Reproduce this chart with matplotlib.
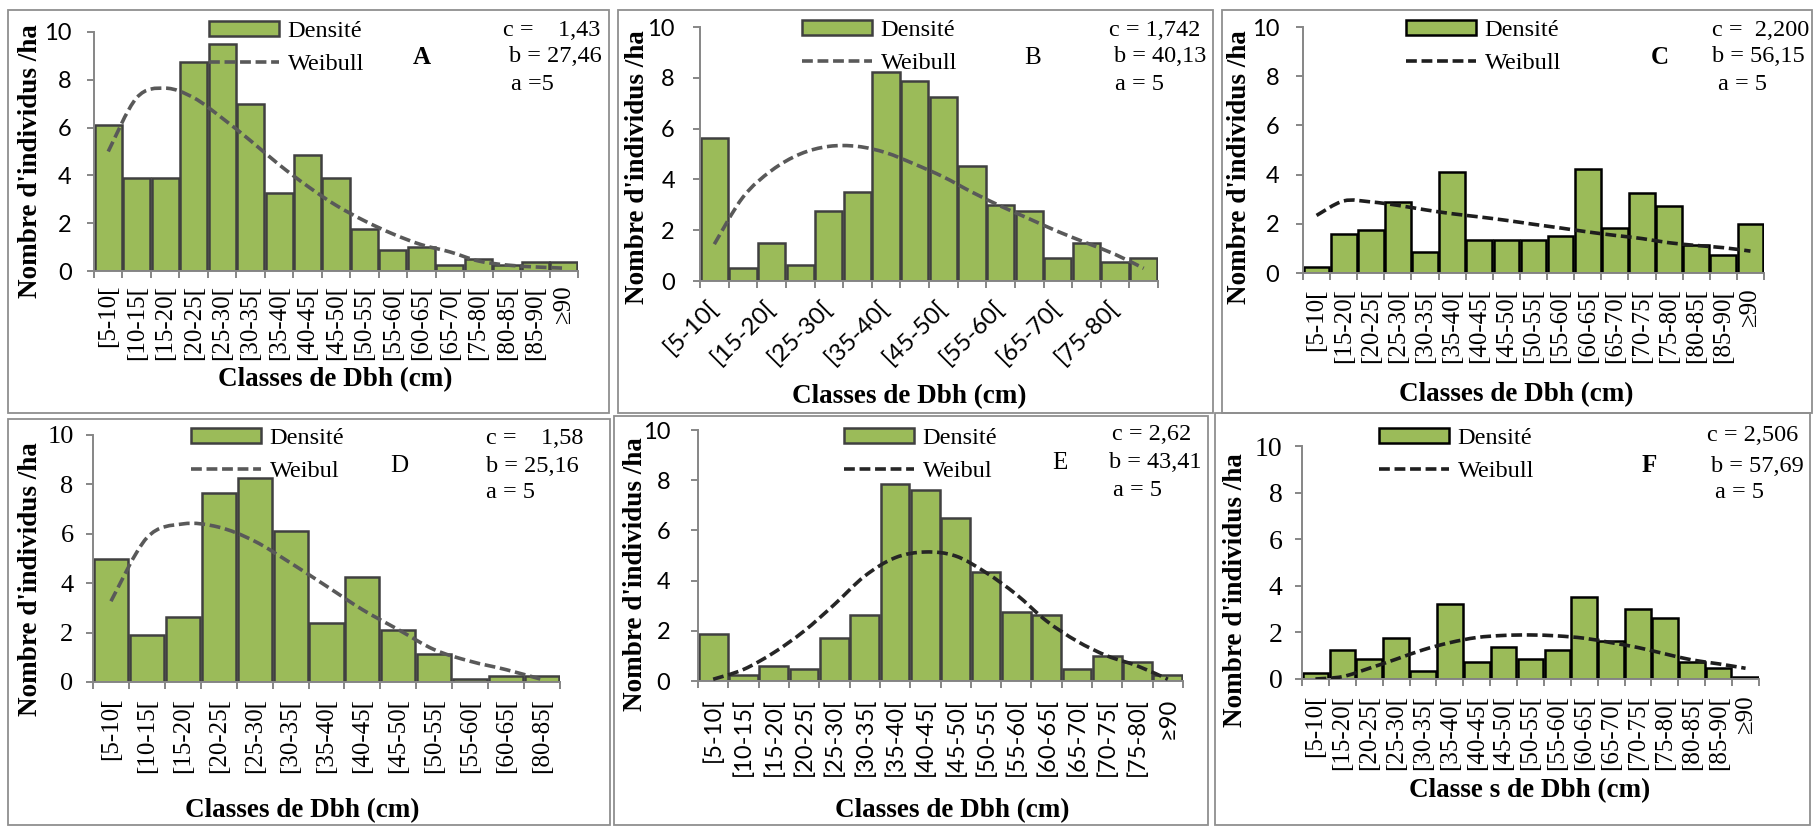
import matplotlib
matplotlib.use("Agg")
import matplotlib.pyplot as plt
from matplotlib.patches import Rectangle, Patch, PathPatch
from matplotlib.lines import Line2D
from matplotlib.path import Path
import numpy as np

W, H = 1814, 826
SERIF = "Liberation Serif"
SANS = ["Lato", "DejaVu Sans"]
VERT = "#9BBB59"
plt.rcParams["font.family"] = [SERIF, "DejaVu Sans"]

# ---------------- donnees ----------------
classes_A = ["[5-10[", "[10-15[", "[15-20[", "[20-25[", "[25-30[", "[30-35[", "[35-40[",
             "[40-45[", "[45-50[", "[50-55[", "[55-60[", "[60-65[", "[65-70[", "[75-80[",
             "[80-85[", "[85-90[", "≥90"]
densite_A = [6.1, 3.9, 3.9, 8.75, 9.5, 7.0, 3.25, 4.85, 3.9, 1.75, 0.87, 1.0, 0.25, 0.5, 0.25, 0.37, 0.37]
weibull_A = [5.0, 7.25, 7.65, 7.25, 6.4, 5.45, 4.45, 3.55, 2.75, 2.1, 1.55, 1.1, 0.8, 0.42, 0.25, 0.17, 0.12]

classes_B = ["[5-10[", "[10-15[", "[15-20[", "[20-25[", "[25-30[", "[30-35[", "[35-40[", "[40-45[",
             "[45-50[", "[50-55[", "[55-60[", "[60-65[", "[65-70[", "[70-75[", "[75-80[", "[80-85["]
densite_B = [5.64, 0.5, 1.51, 0.63, 2.77, 3.5, 8.24, 7.89, 7.25, 4.51, 3.0, 2.77, 0.89, 1.51, 0.76, 0.89]
weibull_B = [1.45, 3.3, 4.35, 5.0, 5.3, 5.3, 5.05, 4.6, 4.1, 3.5, 2.95, 2.45, 1.95, 1.5, 1.05, 0.5]

classes_C = ["[5-10[", "[15-20[", "[20-25[", "[25-30[", "[30-35[", "[35-40[", "[40-45[", "[45-50[",
             "[50-55[", "[55-60[", "[60-65[", "[65-70[", "[70-75[", "[75-80[", "[80-85[", "[85-90[", "≥90"]
densite_C = [0.24, 1.6, 1.73, 2.89, 0.85, 4.1, 1.35, 1.35, 1.35, 1.49, 4.24, 1.84, 3.25, 2.74, 1.12, 0.72, 1.99]
weibull_C = [2.34, 2.93, 2.89, 2.75, 2.57, 2.41, 2.28, 2.14, 1.98, 1.83, 1.67, 1.53, 1.4, 1.23, 1.12, 1.03, 0.89]

classes_D = ["[5-10[", "[10-15[", "[15-20[", "[20-25[", "[25-30[", "[30-35[", "[35-40[",
             "[40-45[", "[45-50[", "[50-55[", "[55-60[", "[60-65[", "[80-85["]
densite_D = [5.0, 1.89, 2.64, 7.64, 8.24, 6.12, 2.38, 4.26, 2.12, 1.14, 0.14, 0.26, 0.26]
weibull_D = [3.27, 5.84, 6.4, 6.27, 5.7, 4.82, 3.88, 2.93, 2.12, 1.31, 0.84, 0.5, 0.1]

classes_E = ["[5-10[", "[10-15[", "[15-20[", "[20-25[", "[25-30[", "[30-35[", "[35-40[", "[40-45[",
             "[45-50[", "[50-55[", "[55-60[", "[60-65[", "[65-70[", "[70-75[", "[75-80[", "≥90"]
densite_E = [1.86, 0.23, 0.6, 0.49, 1.73, 2.62, 7.86, 7.61, 6.48, 4.36, 2.75, 2.62, 0.49, 1.0, 0.76, 0.23]
weibull_E = [0.07, 0.46, 1.13, 1.99, 3.05, 4.18, 4.91, 5.14, 4.98, 4.32, 3.45, 2.39, 1.59, 1.0, 0.6, 0.07]

classes_F = classes_C
densite_F = [0.24, 1.25, 0.86, 1.74, 0.36, 3.24, 0.75, 1.36, 0.86, 1.25, 3.5, 1.61, 3.0, 2.61, 0.75, 0.46, 0.1]
weibull_F = [0.0, 0.1, 0.46, 0.85, 1.25, 1.56, 1.78, 1.87, 1.89, 1.85, 1.75, 1.56, 1.35, 1.08, 0.82, 0.65, 0.46]

fig = plt.figure(figsize=(W / 100, H / 100), dpi=100)


def cadre(l, t, r, b):
    fig.add_artist(Rectangle((l / W, 1 - b / H), (r - l) / W, (b - t) / H, transform=fig.transFigure,
                             fill=False, ec="#8f8f8f", lw=1.3))


def texte(x, y, s, **kw):
    fig.text(x / W, 1 - y / H, s, va="center", **kw)


def courbe_lissee(x, y):
    # courbe "lissee" facon tableur : Bezier passant par chaque point
    pts = np.column_stack([x, y]).astype(float)
    verts = [pts[0]]
    codes = [Path.MOVETO]
    for i in range(len(pts) - 1):
        p0 = pts[i - 1] if i > 0 else pts[i]
        p1, p2 = pts[i], pts[i + 1]
        p3 = pts[i + 2] if i + 2 < len(pts) else pts[i + 1]
        verts += [p1 + (p2 - p0) / 6, p2 - (p3 - p1) / 6, p2]
        codes += [Path.CURVE4] * 3
    return Path(verts, codes)


def panneau(box, classes, densite, weibull, params, lettre, leg, ylab, xlab,
            xlab_text="Classes de Dbh (cm)", weib_label="Weibull", edge="#404040", ligne="#595959",
            xfont=SERIF, xsize=18, xpad=10, yfont=SANS, ysize=17, ypad=11, every=1, rot=90):
    l, t, r, b = box
    ax = fig.add_axes([l / W, 1 - b / H, (r - l) / W, (b - t) / H])
    ax.patch.set_alpha(0)
    n = len(classes)
    x = np.arange(n)
    ax.bar(x, densite, width=0.95, color=VERT, edgecolor=edge, linewidth=1.8, zorder=2)
    ax.add_patch(PathPatch(courbe_lissee(x, weibull), fill=False, edgecolor=ligne, lw=2.6,
                           linestyle=(0, (3, 1.3)), zorder=3))
    ax.set_xlim(-0.5, n - 0.5)
    ax.set_ylim(0, 10)
    ax.set_yticks(range(0, 11, 2))
    for s in ("top", "right"):
        ax.spines[s].set_visible(False)
    for s in ("left", "bottom"):
        ax.spines[s].set_color("#868686")
        ax.spines[s].set_linewidth(1.4)
    # graduations aux limites des classes, etiquettes au centre
    ax.set_xticks(np.arange(n + 1) - 0.5)
    ax.set_xticklabels([])
    ax.set_xticks(x[::every], [classes[i] for i in x[::every]], minor=True)
    ax.tick_params(axis="x", which="major", direction="out", length=5, width=1.4, color="#868686")
    ax.tick_params(axis="x", which="minor", length=0, pad=xpad)
    ax.tick_params(axis="y", direction="out", length=5, width=1.4, color="#868686", pad=ypad)
    for lab in ax.get_xticklabels(minor=True):
        lab.set_fontfamily(xfont)
        lab.set_fontsize(xsize)
        if rot == 90:
            lab.set_rotation(90)
        else:
            lab.set_rotation(rot)
            lab.set_ha("right")
            lab.set_va("center")
            lab.set_rotation_mode("anchor")
    for lab in ax.get_yticklabels():
        lab.set_fontfamily(yfont)
        lab.set_fontsize(ysize)

    ax.set_ylabel("Nombre d'individus /ha", fontfamily=SERIF, fontweight="bold", fontsize=19.5,
                  va="center", ha="center")
    ax.yaxis.set_label_coords(ylab[0] / W, 1 - ylab[1] / H, transform=fig.transFigure)
    ax.set_xlabel(xlab_text, fontfamily=SERIF, fontweight="bold", fontsize=19.5, va="center", ha="center")
    ax.xaxis.set_label_coords(xlab[0] / W, 1 - xlab[1] / H, transform=fig.transFigure)

    handles = [Patch(facecolor=VERT, edgecolor=edge, linewidth=1.8),
               Line2D([], [], color=ligne, lw=2.6, dashes=(3, 1.3))]
    ax.legend(handles, ["Densité", weib_label], loc="upper left",
              bbox_to_anchor=(leg[0] / W, 1 - leg[1] / H), bbox_transform=fig.transFigure,
              frameon=False, borderpad=0, borderaxespad=0, handlelength=2.9, handleheight=0.55,
              handletextpad=0.34, labelspacing=0.5, prop={"family": SERIF, "size": 17.5})

    for px, py, s in params:
        texte(px, py, s, fontfamily=SERIF, fontsize=17.5)
    lt, lx, ly, bold = lettre
    texte(lx, ly, lt, ha="center", fontfamily=SERIF, fontsize=18,
          fontweight="bold" if bold else "normal")
    return ax


# cadres des six panneaux
cadre(8, 10, 609, 413)
cadre(618, 10, 1213, 413)
cadre(1222, 10, 1812, 413)
cadre(8, 419, 610, 825)
cadre(614, 416, 1208, 825)
cadre(1215, 413, 1810, 825)

panneau((94, 32, 578, 271), classes_A, densite_A, weibull_A,
        [(503, 30, "c =    1,43"), (509, 57, "b = 27,46"), (511, 85, "a =5")],
        ("A", 422, 58, True), (209, 21), (31, 161), (335, 380),
        xpad=10, ypad=11)

panneau((700, 27, 1158, 281), classes_B, densite_B, weibull_B,
        [(1109, 30, "c = 1,742"), (1114, 57, "b = 40,13"), (1115, 85, "a = 5")],
        ("B", 1033, 58, False), (802, 20), (638, 167), (909, 397),
        xfont=SANS, xsize=17.5, xpad=17, rot=45, every=2, ypad=13)

panneau((1303, 27, 1764, 273), classes_C, densite_C, weibull_C,
        [(1712, 30, "c =  2,200"), (1712, 57, "b = 56,15"), (1718, 85, "a = 5")],
        ("C", 1660, 57, True), (1406, 20), (1240, 167), (1516, 395),
        edge="black", ligne="#1e1e1e", xpad=11, ypad=12)

panneau((93, 435, 560, 682), classes_D, densite_D, weibull_D,
        [(486, 438, "c =    1,58"), (486, 466, "b = 25,16"), (486, 493, "a = 5")],
        ("D", 399, 466, False), (191, 428), (31, 579), (302, 811),
        weib_label="Weibul", xpad=11.5, yfont=SERIF, ysize=19, ypad=9)

panneau((698, 430, 1183, 681), classes_E, densite_E, weibull_E,
        [(1112, 435, "c = 2,62"), (1109, 463, "b = 43,41"), (1113, 490, "a = 5")],
        ("E", 1060, 463, False), (844, 428), (636, 574), (952, 811),
        weib_label="Weibul", ligne="#262626", xfont=SANS, xsize=17, xpad=12, ypad=15)

panneau((1302, 446, 1759, 679), classes_F, densite_F, weibull_F,
        [(1707, 436, "c = 2,506"), (1711, 466, "b = 57,69"), (1715, 493, "a = 5")],
        ("F", 1649, 465, True), (1379, 428), (1236, 590), (1530, 791),
        xlab_text="Classe s de Dbh (cm)", edge="black", ligne="#1e1e1e",
        xpad=11.5, yfont=SERIF, ysize=20, ypad=9)

fig.savefig("out.png", dpi=100)
